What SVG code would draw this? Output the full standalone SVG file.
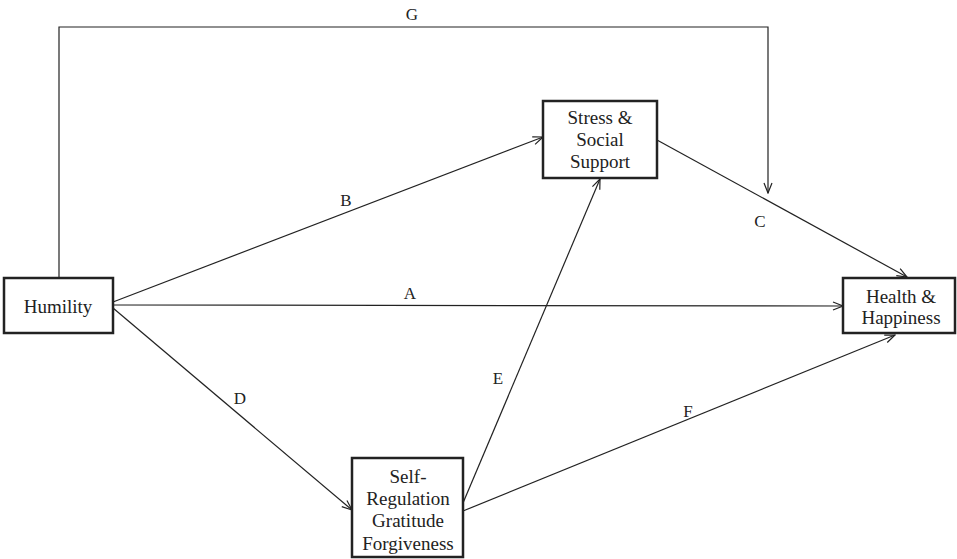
<svg xmlns="http://www.w3.org/2000/svg" width="957" height="559" viewBox="0 0 957 559">
<style>
.box{fill:#fff;stroke:#222;stroke-width:2.5}
.t{font-family:'Liberation Serif','Times New Roman','DejaVu Serif',serif;font-size:19px;fill:#222;text-anchor:middle}
.l{font-family:'Liberation Serif','Times New Roman','DejaVu Serif',serif;font-size:17px;fill:#222;text-anchor:middle}
.c{fill:none;stroke:#222;stroke-width:1.2}
</style>
<defs>
<marker id="ah" markerUnits="userSpaceOnUse" markerWidth="12" markerHeight="10" refX="11" refY="4.5" orient="auto">
<path d="M1,0.5 L11,4.5 L1,8.5" fill="none" stroke="#222" stroke-width="1.2"/>
</marker>
</defs>
<g id="connectors">
<path class="c" d="M59,278 V27 H768 V193" marker-end="url(#ah)"/>
<path class="c" d="M113,302 L543,137" marker-end="url(#ah)"/>
<path class="c" d="M113,305 L843,306" marker-end="url(#ah)"/>
<path class="c" d="M113,308 L352,510" marker-end="url(#ah)"/>
<path class="c" d="M657,140 L907,277" marker-end="url(#ah)"/>
<path class="c" d="M463,503 L600,179" marker-end="url(#ah)"/>
<path class="c" d="M463,511 L895,335" marker-end="url(#ah)"/>
<text class="l" x="412" y="20">G</text>
<text class="l" x="346" y="206">B</text>
<text class="l" x="410" y="299">A</text>
<text class="l" x="760" y="227">C</text>
<text class="l" x="240" y="404">D</text>
<text class="l" x="498" y="384">E</text>
<text class="l" x="688" y="417">F</text>
</g>
<g id="humility">
<rect class="box" x="4" y="278" width="109" height="55"/>
<text class="t" x="58" y="313">Humility</text>
</g>
<g id="stress">
<rect class="box" x="543" y="101" width="114" height="77"/>
<text class="t" x="600" y="124">Stress &amp;</text>
<text class="t" x="600" y="146">Social</text>
<text class="t" x="600" y="168">Support</text>
</g>
<g id="health">
<rect class="box" x="843" y="278" width="112" height="55"/>
<text class="t" x="901" y="303">Health &amp;</text>
<text class="t" x="901" y="324">Happiness</text>
</g>
<g id="self">
<rect class="box" x="352" y="458" width="111" height="99"/>
<text class="t" x="408" y="483">Self-</text>
<text class="t" x="408" y="505">Regulation</text>
<text class="t" x="408" y="527">Gratitude</text>
<text class="t" x="408" y="550">Forgiveness</text>
</g>
</svg>
